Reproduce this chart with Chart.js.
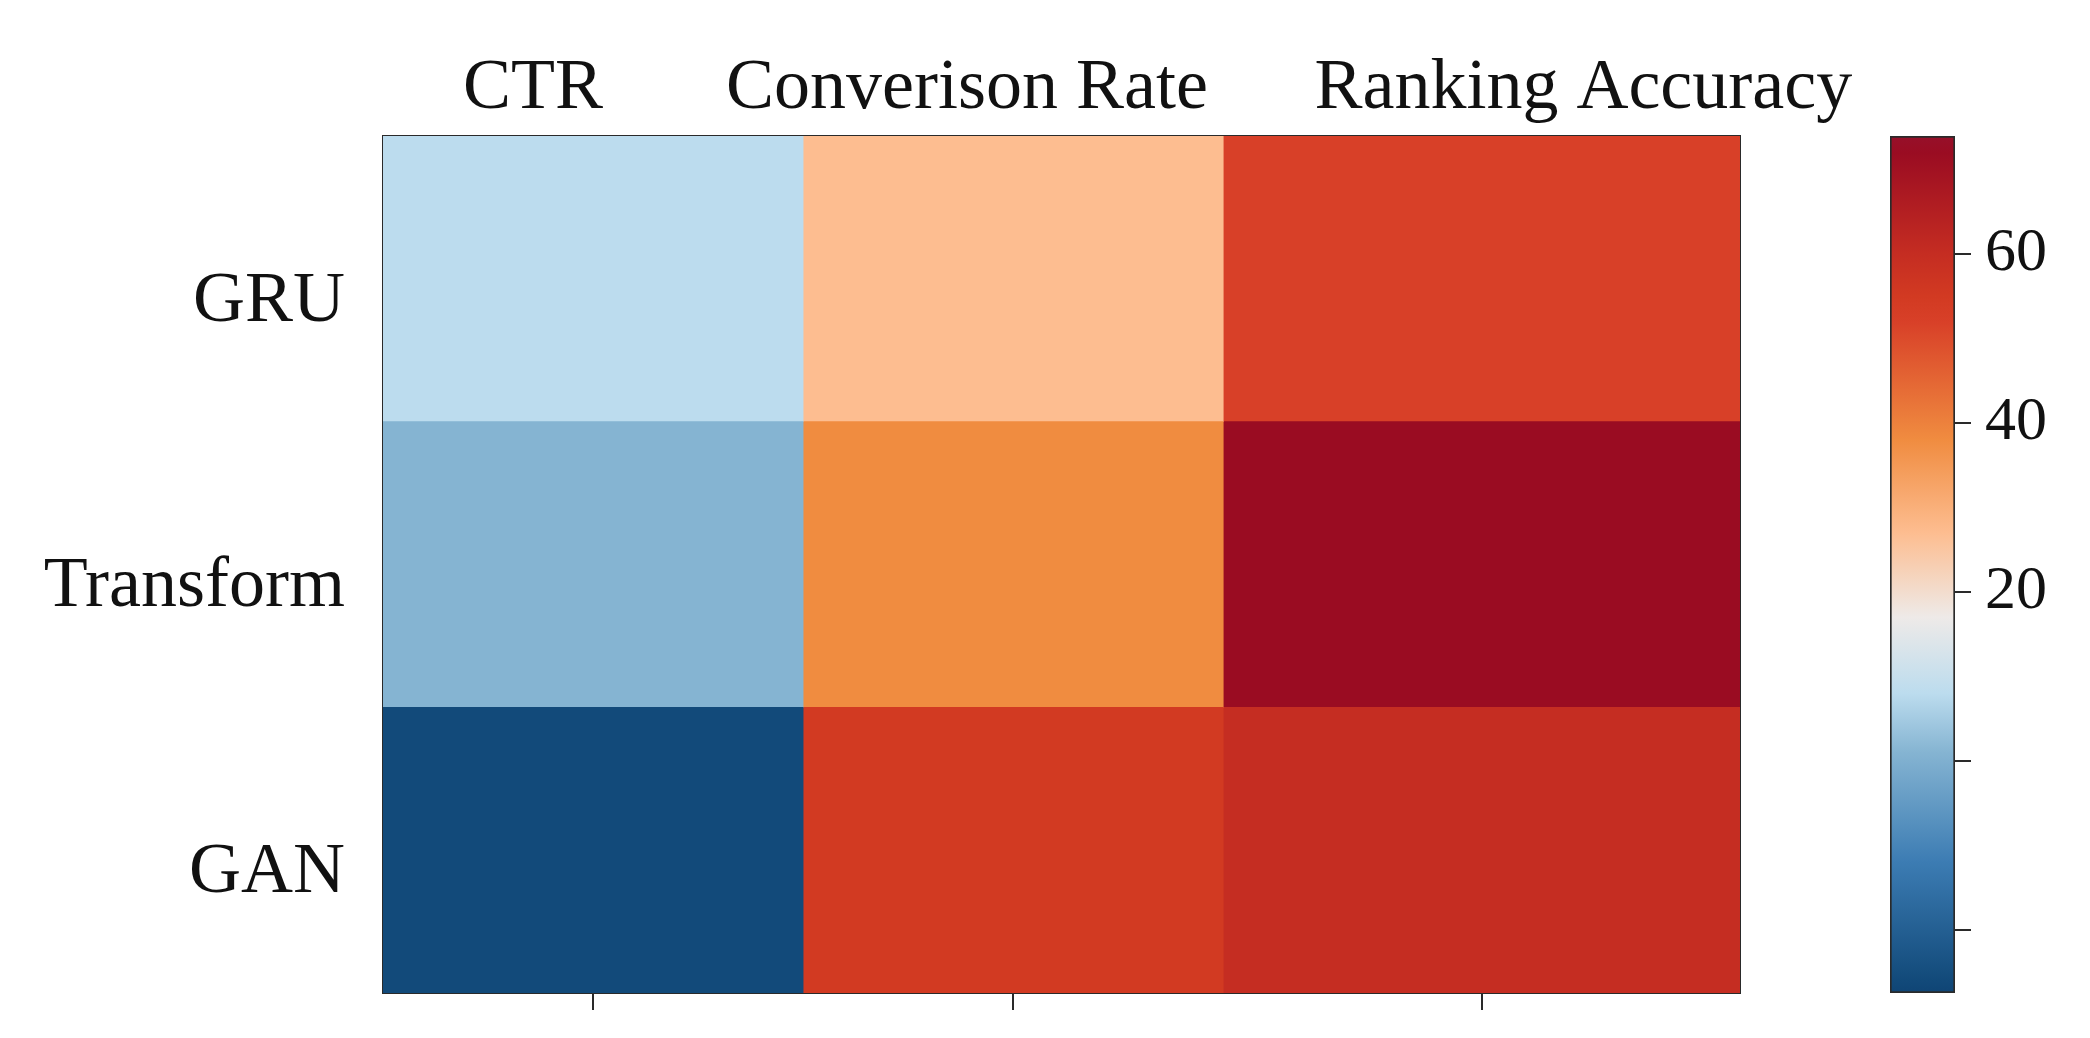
<!DOCTYPE html>
<html>
<head>
<meta charset="utf-8">
<script src="https://cdn.jsdelivr.net/npm/chart.js@4.4.1/dist/chart.umd.min.js"></script>
<style>
  html, body { margin: 0; padding: 0; background: #ffffff; }
  #wrap { position: relative; width: 2090px; height: 1038px; }
  canvas { position: absolute; left: 0; top: 0; }
</style>
</head>
<body>
<div id="wrap">
  <canvas id="heat" width="2090" height="1038"></canvas>
  <canvas id="cbar" width="2090" height="1038"></canvas>
</div>
<script>
// ---- data ----
const metrics = ['CTR', 'Converison Rate', 'Ranking Accuracy'];
const models = ['GRU', 'Transform', 'GAN'];
const gruValues = [8, 27, 52];
const transformValues = [1, 38, 72];
const ganValues = [-26, 55, 60];
const colorbarTicks = [60, 40, 20, 0, -20];
const colorbarLabelled = [60, 40, 20];
const colorbarMin = -27.5;
const colorbarMax = 74;

const rowValues = [gruValues, transformValues, ganValues];

// ---- layout constants (cell geometry / label anchors, in x-scale units) ----
const columnEdges = [0, 1, 2, 3.23];
const topLabelAnchors = [0.357, 1.39, 2.857];
const columnCenters = columnEdges.slice(0, -1).map((e, i) => (e + columnEdges[i + 1]) / 2);

// ---- colormap (style) ----
const cmapStops = [
  [-27.5, '#0f4475'], [-26, '#124a7a'], [-12, '#3c7cb3'], [1, '#85b4d2'],
  [8, '#bcdcee'], [17, '#eeeae8'], [27, '#fdbd90'], [38, '#f08c40'],
  [52, '#d84028'], [55, '#d23a22'], [60, '#c52d22'], [72, '#9a0c22'], [74, '#96102a']
];
function hexToRgb(h) { const n = parseInt(h.slice(1), 16); return [(n >> 16) & 255, (n >> 8) & 255, n & 255]; }
function colorFor(v) {
  if (v <= cmapStops[0][0]) return cmapStops[0][1];
  for (let i = 1; i < cmapStops.length; i++) {
    const [v1, c1] = cmapStops[i];
    if (v <= v1) {
      const [v0, c0] = cmapStops[i - 1];
      const t = (v - v0) / (v1 - v0);
      const a = hexToRgb(c0), b = hexToRgb(c1);
      const m = a.map((x, k) => Math.round(x + (b[k] - x) * t));
      return `rgb(${m[0]},${m[1]},${m[2]})`;
    }
  }
  return cmapStops[cmapStops.length - 1][1];
}

const serif = "'Liberation Serif', 'Times New Roman', serif";
const ink = '#111111';
const frame = '#2a2a2a';
const noPad = (s) => { s.paddingTop = 0; s.paddingBottom = 0; s.paddingLeft = 0; s.paddingRight = 0; };

// ---- heatmap: one floating horizontal bar per cell ----
const heatDatasets = metrics.map((metric, c) => ({
  label: metric,
  data: models.map(() => [columnEdges[c], columnEdges[c + 1]]),
  backgroundColor: models.map((m, r) => colorFor(rowValues[r][c])),
  borderWidth: 0,
  barPercentage: 1,
  categoryPercentage: 1,
  grouped: false,
  xAxisID: 'x',
  yAxisID: 'y'
}));

new Chart(document.getElementById('heat'), {
  type: 'bar',
  data: { labels: models, datasets: heatDatasets },
  options: {
    indexAxis: 'y',
    responsive: false,
    devicePixelRatio: 1,
    animation: false,
    layout: { padding: 0 },
    plugins: { legend: { display: false }, tooltip: { enabled: false } },
    scales: {
      x: {
        type: 'linear', position: 'bottom',
        min: columnEdges[0], max: columnEdges[columnEdges.length - 1],
        afterBuildTicks: (s) => { s.ticks = columnCenters.map(v => ({ value: v })); },
        ticks: { display: false },
        grid: { drawOnChartArea: false, drawTicks: true, tickLength: 17, color: frame, lineWidth: 2 },
        border: { display: true, color: frame, width: 2 },
        afterFit: (s) => { s.height = 45; noPad(s); }
      },
      xTop: {
        type: 'linear', position: 'top',
        min: columnEdges[0], max: columnEdges[columnEdges.length - 1],
        afterBuildTicks: (s) => { s.ticks = topLabelAnchors.map(v => ({ value: v })); },
        ticks: {
          color: ink, font: { family: serif, size: 72 }, padding: 4, maxRotation: 0, autoSkip: false,
          callback: (v, i) => metrics[i]
        },
        grid: { display: false, drawTicks: false },
        border: { display: true, color: frame, width: 2 },
        afterFit: (s) => { s.height = 136; noPad(s); }
      },
      y: {
        type: 'category', position: 'left', offset: true,
        ticks: { color: ink, font: { family: serif, size: 72 }, padding: 38, labelOffset: 23 },
        grid: { display: false, drawTicks: false },
        border: { display: true, color: frame, width: 2 },
        afterFit: (s) => { s.width = 383; noPad(s); }
      },
      yRight: {
        type: 'category', position: 'right', labels: models, offset: true,
        ticks: { display: false },
        grid: { display: false, drawTicks: false },
        border: { display: true, color: frame, width: 2 },
        afterFit: (s) => { s.width = 350; noPad(s); }
      }
    }
  }
});

// ---- colorbar ----
new Chart(document.getElementById('cbar'), {
  type: 'bar',
  data: {
    labels: ['scale'],
    datasets: [{
      data: [[colorbarMin, colorbarMax]],
      barPercentage: 1,
      categoryPercentage: 1,
      borderWidth: 2,
      borderColor: frame,
      borderSkipped: false,
      backgroundColor: (ctx) => {
        const chart = ctx.chart;
        if (!chart.chartArea) return '#ccc';
        const ys = chart.scales.y;
        const y0 = ys.getPixelForValue(colorbarMin), y1 = ys.getPixelForValue(colorbarMax);
        const g = chart.ctx.createLinearGradient(0, y0, 0, y1);
        cmapStops.forEach(([v, c]) => g.addColorStop(Math.min(1, Math.max(0, (v - colorbarMin) / (colorbarMax - colorbarMin))), c));
        return g;
      }
    }]
  },
  options: {
    responsive: false,
    devicePixelRatio: 1,
    animation: false,
    layout: { padding: { left: 1890, top: 136, bottom: 45, right: 0 } },
    plugins: { legend: { display: false }, tooltip: { enabled: false } },
    scales: {
      x: { display: false },
      y: {
        position: 'right', min: colorbarMin, max: colorbarMax,
        afterBuildTicks: (s) => { s.ticks = colorbarTicks.map(v => ({ value: v })); },
        ticks: {
          color: ink, font: { family: serif, size: 62 }, padding: 14,
          callback: (v) => colorbarLabelled.includes(v) ? String(v) : ''
        },
        grid: { drawOnChartArea: false, drawTicks: true, tickLength: 16, color: frame, lineWidth: 2 },
        border: { display: false },
        afterFit: (s) => { s.width = 135; noPad(s); }
      }
    }
  }
});
</script>
</body>
</html>
